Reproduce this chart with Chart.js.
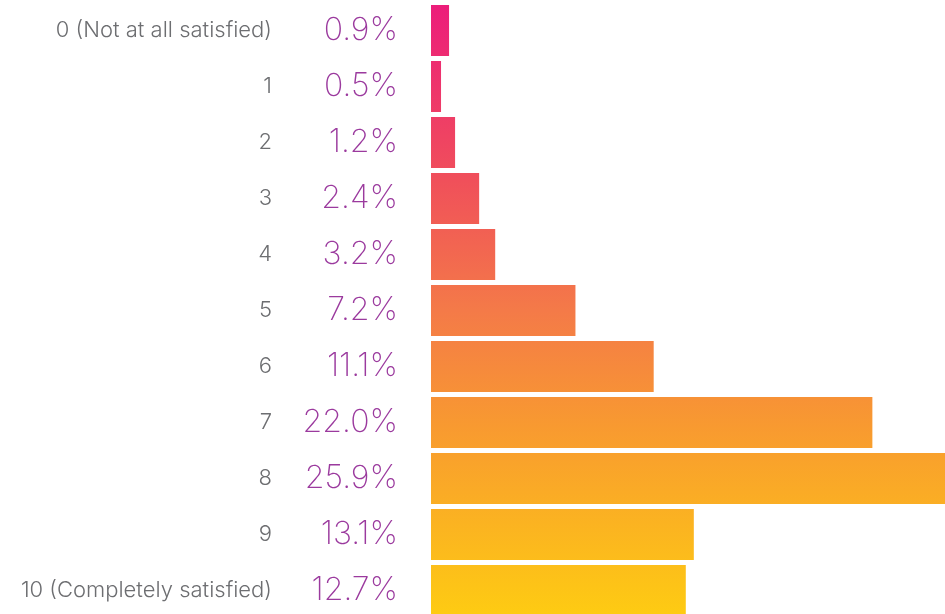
<!DOCTYPE html>
<html>
<head>
<meta charset="utf-8">
<script src="https://cdn.jsdelivr.net/npm/chart.js@4"></script>
<style>
    html, body { margin: 0; padding: 0; background: #fff; overflow: hidden; }
    #wrap { position: relative; width: 945px; height: 619px; }
</style>
</head>
<body>
<div id="wrap"><canvas id="chart1"></canvas></div>
<script>
const categories = [
    '0 (Not at all satisfied)',
    '1',
    '2',
    '3',
    '4',
    '5',
    '6',
    '7',
    '8',
    '9',
    '10 (Completely satisfied)'
];
const shares = [0.9, 0.5, 1.2, 2.4, 3.2, 7.2, 11.1, 22.0, 25.9, 13.1, 12.7];

// one gradient over the whole plot area, pink at the top to yellow at the bottom
function barFill(context) {
    const area = context.chart.chartArea;
    if (!area) return '#f7931e';
    const g = context.chart.ctx.createLinearGradient(0, area.top, 0, area.bottom);
    g.addColorStop(0, '#ec1c7b');
    g.addColorStop(0.29, '#f0505a');
    g.addColorStop(0.5, '#f47a48');
    g.addColorStop(0.69, '#f89a30');
    g.addColorStop(1, '#fecc12');
    return g;
}

const valueLabels = {
    id: 'valueLabels',
    afterDatasetsDraw(chart) {
        const ctx = chart.ctx;
        const y = chart.scales.y;
        ctx.save();
        ctx.font = '200 32px Inter';
        ctx.fillStyle = '#9b3a9e';
        ctx.textAlign = 'right';
        ctx.textBaseline = 'middle';
        shares.forEach((v, i) => {
            ctx.fillText(v.toFixed(1) + '%', chart.chartArea.left - 33, y.getPixelForValue(i));
        });
        ctx.restore();
    }
};

const chart1 = new Chart(document.querySelector('#chart1'), {
    type: 'bar',
    data: {
        labels: categories,
        datasets: [{
            label: 'Satisfaction',
            data: shares,
            backgroundColor: barFill,
            barPercentage: 0.91,
            categoryPercentage: 1
        }]
    },
    options: {
        indexAxis: 'y',
        responsive: true,
        maintainAspectRatio: false,
        animation: false,
        layout: { padding: { top: 2.5, bottom: 0.5, left: 0, right: 0 } },
        plugins: {
            legend: { display: false },
            tooltip: { enabled: false }
        },
        scales: {
            x: {
                display: false,
                min: 0,
                max: 25.62
            },
            y: {
                grid: { display: false, drawTicks: false },
                border: { display: false },
                ticks: {
                    padding: 159,
                    color: '#6d6e71',
                    font: { family: 'Inter', size: 22, weight: 300 }
                },
                afterFit(scale) {
                    scale.width = 431;
                    scale.paddingTop = 0;
                    scale.paddingBottom = 0;
                }
            }
        }
    },
    plugins: [valueLabels]
});
</script>
</body>
</html>
